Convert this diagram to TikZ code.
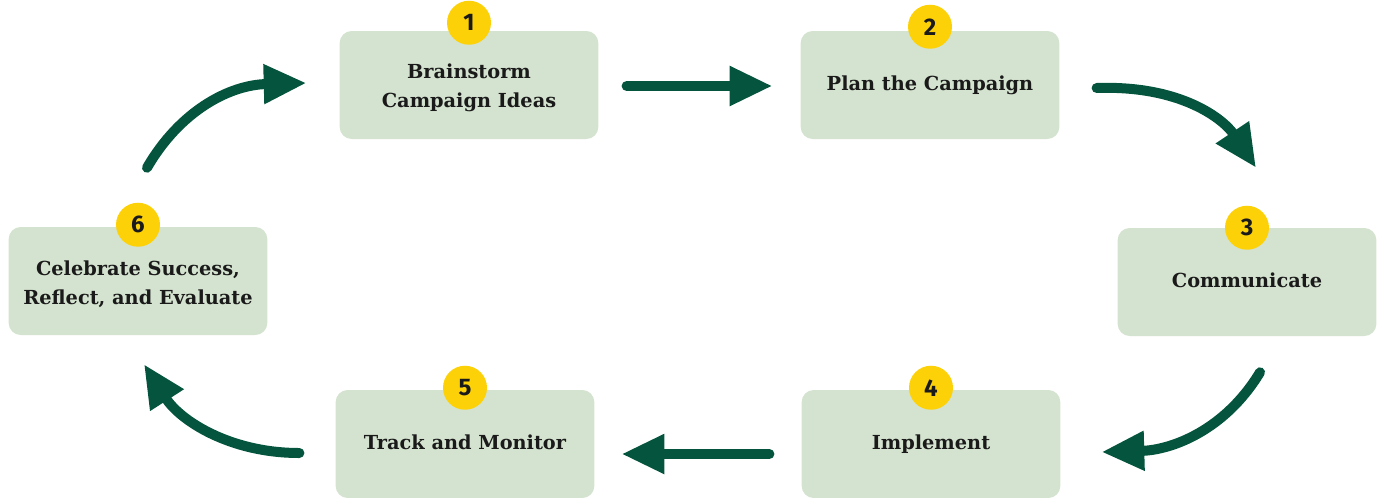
\documentclass[tikz,border=0pt]{standalone}
\usepackage{fontspec}
\setmainfont{DejaVu Serif}
\newfontfamily\badgefont{Fira Sans}
\usetikzlibrary{arrows.meta,calc,positioning}
\definecolor{boxgreen}{HTML}{D4E3CF}
\definecolor{arrowgreen}{HTML}{05543D}
\definecolor{badgeyellow}{HTML}{FCD107}
\definecolor{inktext}{HTML}{1A1A1A}
\tikzset{
  stepbox/.style={fill=boxgreen, rounded corners=9pt, minimum width=194pt, minimum height=81pt,
    align=center, inner sep=0pt, text=inktext, font=\bfseries\fontsize{14.5}{22}\selectfont},
  badge/.style={circle, fill=badgeyellow, minimum size=33pt, inner sep=0pt, text=inktext,
    font=\badgefont\bfseries\fontsize{18}{18}\selectfont},
  flow/.style={draw=arrowgreen, line width=7.5pt, line cap=round,
    -{Triangle[length=32pt,width=28pt]}},
}
\begin{document}
\begin{tikzpicture}[x=0.75pt, y=-0.75pt]
  \useasboundingbox (0,0) rectangle (1380,497);
  % steps
  \node[stepbox] (brain) at (469,85) {\strut Brainstorm\\Campaign Ideas};
  \node[stepbox] (plan) at (930,85) {\strut Plan the Campaign};
  \node[stepbox] (comm) at (1247,282) {\strut Communicate};
  \node[stepbox] (impl) at (931,444) {\strut Implement};
  \node[stepbox] (track) at (465,444) {\strut Track and Monitor};
  \node[stepbox] (celeb) at (138,281) {\strut Celebrate Success,\\Reflect, and Evaluate};
  % numbers
  \node[badge] (n1) at ($(brain.north)+(0,-8)$) {1};
  \node[badge] (n2) at ($(plan.north)+(0,-4)$) {2};
  \node[badge] (n3) at ($(comm.north)+(0,0)$) {3};
  \node[badge] (n4) at ($(impl.north)+(0,-2)$) {4};
  \node[badge] (n5) at ($(track.north)+(0,-2)$) {5};
  \node[badge] (n6) at ($(celeb.north)+(0,-2)$) {6};
  % arrow ends
  \coordinate (p2s) at ($(plan.east)+(37,3)$);
  \coordinate (p2e) at ($(comm.north)+(9,-60)$);
  \coordinate (p3s) at ($(comm.south)+(13,36)$);
  \coordinate (p3e) at ($(impl.east)+(41,8)$);
  \coordinate (p5s) at ($(track.west)+(-36,9)$);
  \coordinate (p5e) at ($(celeb.south)+(6,29)$);
  \coordinate (p6s) at ($(celeb.north)+(9,-59)$);
  \coordinate (p6e) at ($(brain.west)+(-33,-2)$);
  % arrows
  \draw[flow] ($(brain.east)+(28,1)$) -- ($(plan.west)+(-28,1)$);
  \draw[flow] (p2s) .. controls ($(p2s)+(85,-3)$) and ($(p2e)+(-32,-48)$) .. (p2e);
  \draw[flow] (p3s) .. controls ($(p3s)+(-35,58)$) and ($(p3e)+(70,-2)$) .. (p3e);
  \draw[flow] ($(impl.west)+(-32,10)$) -- ($(track.east)+(27,10)$);
  \draw[flow] (p5s) .. controls ($(p5s)+(-70,0)$) and ($(p5e)+(36,56)$) .. (p5e);
  \draw[flow] (p6s) .. controls ($(p6s)+(33,-57)$) and ($(p6e)+(-77,2)$) .. (p6e);
\end{tikzpicture}
\end{document}
